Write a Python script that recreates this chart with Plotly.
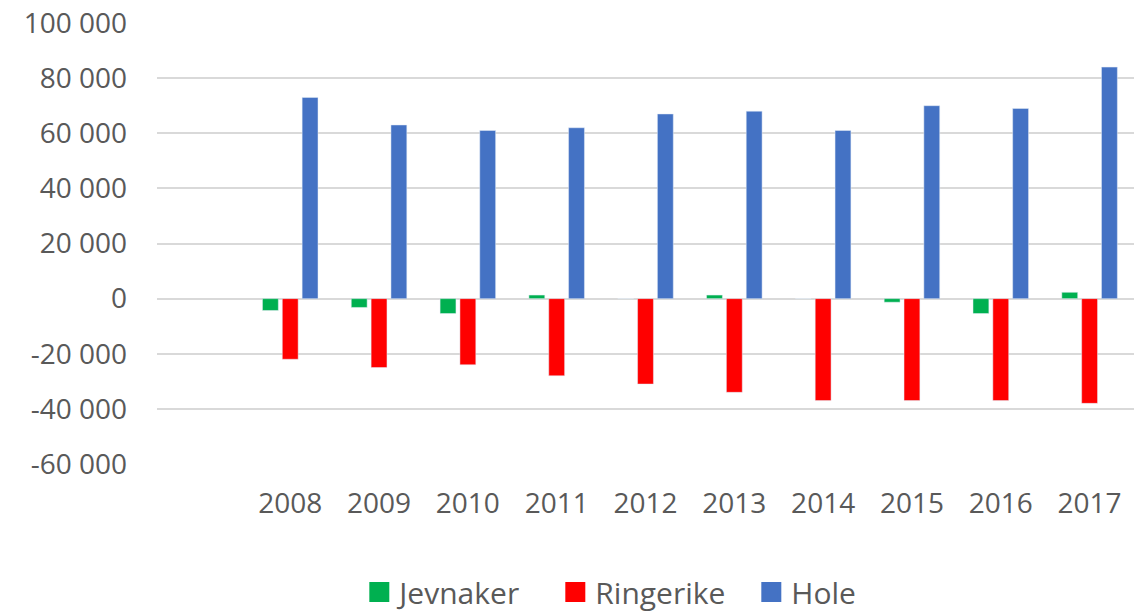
import plotly.graph_objects as go

years = [2008, 2009, 2010, 2011, 2012, 2013, 2014, 2015, 2016, 2017]
jevnaker = [-4300, -3200, -5400, 1300, 0, 1300, 0, -1300, -5400, 2300]
ringerike = [-22000, -25000, -24000, -28000, -31000, -34000, -37000, -37000, -37000, -38000]
hole = [73000, 63000, 61000, 62000, 67000, 68000, 61000, 70000, 69000, 84000]
y_ticks = [-60000, -40000, -20000, 0, 20000, 40000, 60000, 80000, 100000]
y_labels = ["-60 000", "-40 000", "-20 000", "0", "20 000", "40 000", "60 000", "80 000", "100 000"]
series = ["Jevnaker", "Ringerike", "Hole"]
colors = ["#00B050", "#FF0000", "#4472C4"]

font = "Open Sans"
grey = "#595959"

fig = go.Figure()
for name, vals, col in zip(series, [jevnaker, ringerike, hole], colors):
    fig.add_trace(go.Bar(x=years, y=vals, name=name, marker_color=col,
                         legendgroup=name, showlegend=False))
# legend entries with larger square symbols
for name, col in zip(series, colors):
    fig.add_trace(go.Scatter(x=[None], y=[None], mode="markers", name=name,
                             legendgroup=name,
                             marker=dict(symbol="square", size=20, color=col,
                                         line=dict(width=4, color=col))))

fig.update_layout(
    width=1138, height=605,
    margin=dict(l=149, r=12, t=15, b=149, autoexpand=False),
    paper_bgcolor="white", plot_bgcolor="white",
    barmode="group", bargap=0.33, bargroupgap=0.2,
    font=dict(family=font, size=28, color=grey),
    showlegend=True,
    legend=dict(orientation="h", x=0.508, xanchor="center", y=-0.29, yanchor="middle",
                font=dict(size=30, color=grey), traceorder="normal", itemwidth=30,
                entrywidth=151),
    xaxis=dict(range=[2006.5, 2017.5], tickmode="array", tickvals=years,
               ticktext=[str(y) for y in years], showgrid=False, zeroline=False,
               showline=False, ticks="", ticklabelstandoff=20, automargin=False,
               tickfont=dict(size=28, color=grey)),
    yaxis=dict(range=[-60000, 100000], tickmode="array", tickvals=y_ticks,
               ticktext=y_labels, showgrid=True, gridcolor="#d9d9d9", gridwidth=1.5,
               zeroline=True, zerolinecolor="#d9d9d9", zerolinewidth=1.5,
               showline=False, ticks="", ticklabelstandoff=29, automargin=False,
               ticklabeloverflow="allow",
               tickfont=dict(size=28, color=grey)),
)

fig.write_html("out.html")
